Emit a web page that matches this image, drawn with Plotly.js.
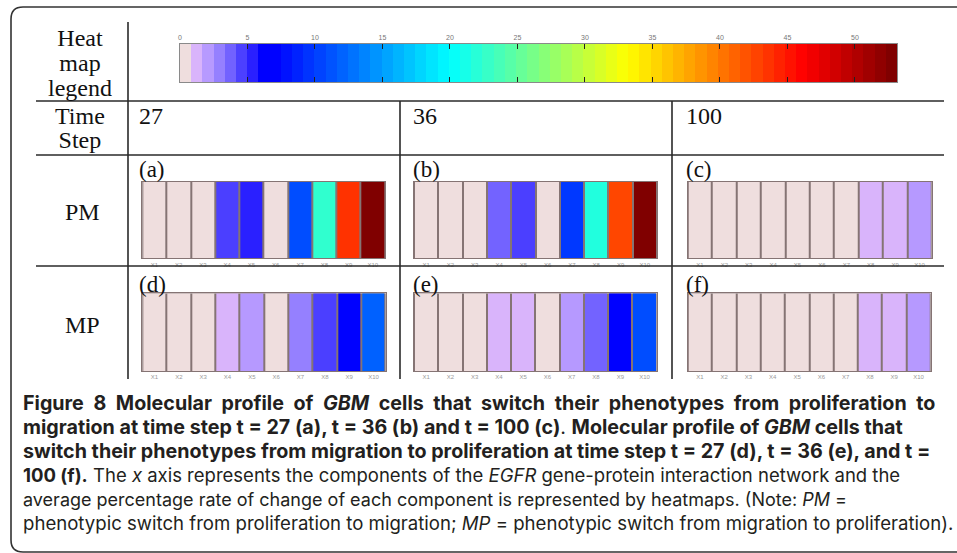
<!DOCTYPE html>
<html>
<head>
<meta charset="utf-8">
<script src="https://cdn.plot.ly/plotly-3.0.1.min.js"></script>
<style>html,body{margin:0;padding:0;background:#fff;}#chart{width:957px;height:553px;}</style>
</head>
<body>
<div id="chart"></div>
<script>
// ---------------- data ----------------
const components = ['X1','X2','X3','X4','X5','X6','X7','X8','X9','X10'];
const timeSteps = ['27','36','100'];
const rowLabels = ['PM','MP'];
const panelLetters = ['(a)','(b)','(c)','(d)','(e)','(f)'];
const pmT27  = [0,0,0,4.6,5.4,0,10.9,22.5,43.6,52.7];
const pmT36  = [0,0,0,3.7,4.6,0,9.8,21.7,42.6,52.7];
const pmT100 = [0,0,0,0,0,0,0,1.25,1.25,2.1];
const mpT27  = [0,0,0,1.25,2.1,0,2.9,4.6,7.0,11.9];
const mpT36  = [0,0,0,1.25,1.25,0,2.1,3.7,7.0,10.9];
const mpT100 = [0,0,0,0,0,0,0,1.25,1.25,2.1];
const legendTicks = [0,5,10,15,20,25,30,35,40,45,50];
const legendMax = 53.12;
const legendBinCount = 64;

// ---------------- colour scale (value -> colour anchors) ----------------
const scaleAnchors = [
  [0,'#efdede'],[0.415,'#efdede'],[1.245,'#d9b4fb'],[2.075,'#b79aff'],
  [2.905,'#9580ff'],[3.735,'#7262ff'],[4.565,'#4c40ff'],[5.395,'#2a20ff'],
  [6.225,'#0000ff'],[6.95,'#0000ff'],[20.02,'#00ffff'],[33.1,'#ffff00'],
  [46.17,'#ff0000'],[52.7,'#800000'],[53.12,'#780000']
];
const colorscale = scaleAnchors.map(a => [a[0]/legendMax, a[1]]);

// legend scale bins
const binW = legendMax / legendBinCount;
const legendEdges = [], legendCenters = [];
for (let i = 0; i <= legendBinCount; i++) legendEdges.push(i*binW);
for (let i = 0; i < legendBinCount; i++) legendCenters.push((i+0.5)*binW);

// ---------------- geometry helpers ----------------
const W = 957, H = 553;
const px = x => x / W;
const py = y => 1 - y / H;

const serif = 'Liberation Serif, Times New Roman, serif';
const tileBorder = '#857474';

const panels = [
  {z: pmT27,  x0:142.3, x1:385,   y0:181.7, y1:258.3},
  {z: pmT36,  x0:414,   x1:657,   y0:181.7, y1:258.3},
  {z: pmT100, x0:687.7, x1:931.7, y0:181.7, y1:258.3},
  {z: mpT27,  x0:142.3, x1:385.7, y0:293.3, y1:371},
  {z: mpT36,  x0:414,   x1:656.7, y0:293.3, y1:371},
  {z: mpT100, x0:687.7, x1:930.7, y0:293.3, y1:371}
];

const data = [];
const layout = {
  width: W, height: H,
  margin: {l:0, r:0, t:0, b:0},
  paper_bgcolor: '#ffffff',
  plot_bgcolor: tileBorder,
  showlegend: false,
  shapes: [], annotations: []
};

panels.forEach((p, i) => {
  const n = i + 1;
  const xa = n === 1 ? 'x' : 'x' + n;
  const ya = n === 1 ? 'y' : 'y' + n;
  data.push({
    type: 'heatmap', x: components, y: [''], z: [p.z],
    xaxis: xa, yaxis: ya,
    colorscale: colorscale, zmin: 0, zmax: legendMax,
    showscale: false, xgap: 2, hoverinfo: 'skip'
  });
  const xk = n === 1 ? 'xaxis' : 'xaxis' + n;
  const yk = n === 1 ? 'yaxis' : 'yaxis' + n;
  layout[xk] = {
    domain: [px(p.x0), px(p.x1)], anchor: ya, type: 'category',
    showgrid: false, zeroline: false, ticks: '',
    showline: true, mirror: true, linecolor: tileBorder, linewidth: 1,
    tickfont: {family: 'Liberation Sans, Arial, sans-serif', size: 6, color: '#9a9a9a'},
    fixedrange: true
  };
  layout[yk] = {
    domain: [py(p.y1), py(p.y0)], anchor: xa,
    showgrid: false, zeroline: false, showticklabels: false, ticks: '',
    showline: true, mirror: true, linecolor: tileBorder, linewidth: 1,
    fixedrange: true
  };
});

// legend heatmap
data.push({
  type: 'heatmap', x: legendEdges, z: [legendCenters],
  xaxis: 'x7', yaxis: 'y7',
  colorscale: colorscale, zmin: 0, zmax: legendMax,
  showscale: false, hoverinfo: 'skip'
});
layout.xaxis7 = {
  domain: [px(180), px(897)], anchor: 'y7', range: [0, legendMax],
  side: 'top', tickvals: legendTicks, ticks: 'inside', ticklen: 5, tickwidth: 1,
  tickcolor: '#222', mirror: 'ticks', showline: true, linecolor: '#8a8a8a', linewidth: 1,
  showgrid: false, zeroline: false,
  tickfont: {family: 'Liberation Sans, Arial, sans-serif', size: 7, color: '#777'},
  fixedrange: true
};
layout.yaxis7 = {
  domain: [py(82), py(44)], anchor: 'x7',
  showgrid: false, zeroline: false, showticklabels: false, ticks: '',
  showline: true, mirror: true, linecolor: '#8a8a8a', linewidth: 1,
  fixedrange: true
};

// ---------------- table lines and frame ----------------
const lineStyle = {color: '#2a2a2a', width: 1.6};
function seg(x0, y0, x1, y1) {
  layout.shapes.push({type:'line', xref:'paper', yref:'paper',
    x0:px(x0), y0:py(y0), x1:px(x1), y1:py(y1), line: lineStyle});
}
seg(128, 22, 128, 379);
seg(36, 101, 944, 101);
seg(36, 155, 944, 155);
seg(36, 266, 944, 266);
seg(400, 101, 400, 379);
seg(672, 101, 672, 379);

// rounded outer frame (continues beyond the right and bottom edges)
const fp = (x, y) => px(x) + ',' + py(y);
layout.shapes.push({
  type: 'path', xref: 'paper', yref: 'paper',
  path: 'M ' + fp(965, 7) + ' L ' + fp(23, 7) + ' Q ' + fp(11, 7) + ' ' + fp(11, 19) +
        ' L ' + fp(11, 540) + ' Q ' + fp(11, 552) + ' ' + fp(23, 552) + ' L ' + fp(965, 552),
  line: {color: '#333', width: 1.6}
});

// ---------------- texts ----------------
function txt(text, x, y, opts) {
  layout.annotations.push(Object.assign({
    text: text, xref: 'paper', yref: 'paper', x: px(x), y: py(y),
    xanchor: 'center', yanchor: 'middle', showarrow: false,
    font: {family: serif, size: 24, color: '#111'}
  }, opts || {}));
}
const big = s => '<span style="font-size:24px">' + s + '</span>';
// multi-line header cells: base size sets line pitch, span sets glyph size
txt(['Heat','map','legend'].map(big).join('<br>'), 80, 63, {font: {family: serif, size: 19.3, color: '#111'}});
txt(['Time','Step'].map(big).join('<br>'), 80, 128, {font: {family: serif, size: 18.6, color: '#111'}});
txt(rowLabels[0], 82, 212);
txt(rowLabels[1], 82, 325);

const colLeft = [137, 411, 684];
timeSteps.forEach((t, i) => txt(t, colLeft[i], 116, {xanchor: 'left'}));
panelLetters.forEach((l, i) => {
  txt(l, colLeft[i % 3], i < 3 ? 170 : 284, {xanchor: 'left', font: {family: serif, size: 23, color: '#111'}});
});

const js = ' \u2005';
const captionLines = [
  ['<b>' + ['Figure','8','Molecular','profile','of','<i>GBM</i>','cells','that','switch','their','phenotypes','from','proliferation','to'].join(js) + '</b>', 19.7],
  ['<b>migration at time step t = 27 (a), t = 36 (b) and t = 100 (c)</b>. <b>Molecular profile of <i>GBM</i> cells that</b>', 19.7],
  ['<b>switch their phenotypes from migration to proliferation at time step t = 27 (d), t = 36 (e), and t =</b>', 19.7],
  ['<b>100 (f).</b> The <i>x</i> axis represents the components of the <i>EGFR</i> gene-protein interaction network and the', 18.5],
  ['average percentage rate of change of each component is represented by heatmaps. (Note: <i>PM</i> =', 18.0],
  ['phenotypic switch from proliferation to migration; <i>MP</i> = phenotypic switch from migration to proliferation).', 18.6]
];
const captionText = captionLines.map(c => '<span style="font-size:' + c[1] + 'px">' + c[0] + '</span>').join('<br>');
txt(captionText, 21, 462, {xanchor: 'left', align: 'left',
  font: {family: 'Inter, sans-serif', size: 18.46, color: '#231f20'}});

Plotly.newPlot('chart', data, layout, {displayModeBar: false, staticPlot: true});
</script>
</body>
</html>
